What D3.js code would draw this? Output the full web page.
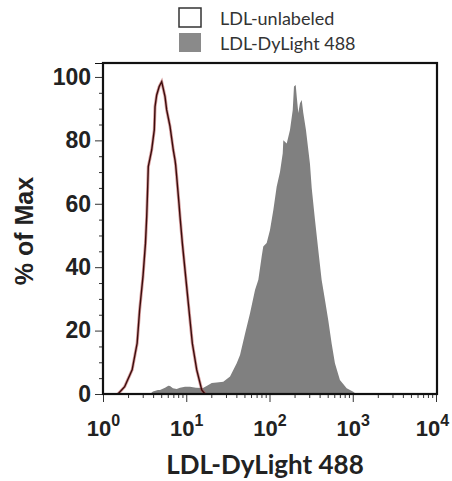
<!DOCTYPE html>
<html>
<head>
<meta charset="utf-8">
<script src="https://cdn.jsdelivr.net/npm/d3@7"></script>
<style>
  body { margin: 0; background: #fff; }
  svg { display: block; }
</style>
</head>
<body>
<script>
// Histogram outlines: position is log10(fluorescence), value is % of Max
var unlabeledLog = [0.18, 0.26, 0.35, 0.41, 0.44, 0.48, 0.51, 0.525, 0.537, 0.544, 0.565, 0.585, 0.616, 0.625, 0.645, 0.675, 0.705,
    0.745, 0.765, 0.805, 0.844, 0.865, 0.873, 0.885, 0.913, 0.925, 0.953, 0.993, 1.033, 1.073, 1.126, 1.186, 1.225];
var unlabeledPct = [0, 2.3, 7.6, 16, 26.5, 37, 47.5, 56, 65.4, 71.7, 74.4, 77, 83.3, 90.6, 94.3, 97, 98.5,
    93.8, 89.6, 84.4, 77, 73.8, 72.2, 68.6, 60, 56, 47.6, 37, 26.5, 16, 7.6, 1.3, 0];

var dylightLog = [0.565, 0.60, 0.66, 0.685, 0.745, 0.785, 0.805, 0.84, 0.885, 0.925, 0.985, 1.045, 1.117, 1.201, 1.25, 1.306,
    1.366, 1.445, 1.526, 1.606, 1.646, 1.706, 1.766, 1.826, 1.866, 1.906, 1.925, 1.966, 2.006, 2.046, 2.086, 2.126, 2.159,
    2.166, 2.207, 2.246, 2.279, 2.294, 2.315, 2.327, 2.346, 2.366, 2.387, 2.406, 2.438, 2.466, 2.486, 2.507, 2.546, 2.586,
    2.626, 2.666, 2.706, 2.746, 2.786, 2.846, 2.927, 3.006, 3.04];
var dylightPct = [0, 0.8, 1.3, 1.3, 2.0, 2.6, 2.5, 1.8, 1.6, 2.0, 2.3, 2.3, 2.0, 1.9, 2.6, 3.5,
    3.6, 3.9, 5.5, 9.7, 12.3, 19, 25.5, 32.8, 36, 43.4, 46.5, 47.6, 51.7, 58, 65.4, 70, 75.9,
    80, 79, 83.3, 89.6, 97, 97.5, 93.8, 88.6, 91.7, 92.7, 88.6, 83.3, 77, 72.6, 65, 55, 45.4,
    36, 29.7, 23.3, 16, 9.7, 4.4, 1.8, 0.7, 0];

var yTicks = [0, 20, 40, 60, 80, 100];
var xDecades = [0, 1, 2, 3, 4];
var legendLabels = ["LDL-unlabeled", "LDL-DyLight 488"];

var W = 452, H = 481;
var margin = { top: 63, right: 15, bottom: 87, left: 103 },
    width = W - margin.left - margin.right,
    height = H - margin.top - margin.bottom;

var svg = d3.select("body").append("svg")
    .attr("width", W)
    .attr("height", H);

var g = svg.append("g")
    .attr("transform", "translate(" + margin.left + "," + margin.top + ")");

var x = d3.scaleLog().domain([1, 1e4]).range([0, width - 1]);
var y = d3.scaleLinear().domain([0, 104.4]).range([height, 0]);

function toPoints(logs, pcts) {
    return logs.map(function(l, i) { return { v: Math.pow(10, l), p: pcts[i] }; });
}

var dylight = toPoints(dylightLog, dylightPct);
var unlabeled = toPoints(unlabeledLog, unlabeledPct);

// filled histogram
g.append("path")
    .datum(dylight)
    .attr("fill", "#808080")
    .attr("d", d3.area()
        .x(function(d) { return x(d.v); })
        .y0(height)
        .y1(function(d) { return y(d.p); }));

// outline histogram (soft red halo + dark core)
var outline = d3.line()
    .x(function(d) { return x(d.v); })
    .y(function(d) { return y(d.p); });
g.append("path")
    .datum(unlabeled)
    .attr("fill", "none")
    .attr("stroke", "#b04848")
    .attr("stroke-width", 3)
    .attr("stroke-opacity", 0.55)
    .attr("d", outline);
g.append("path")
    .datum(unlabeled)
    .attr("fill", "none")
    .attr("stroke", "#3a0c0c")
    .attr("stroke-width", 1.4)
    .attr("d", outline);

// y axis: majors every 20, minors every 5
var yMinor = d3.range(0, 101, 5).filter(function(v) { return v % 20 != 0; });
var yAxis = g.append("g")
    .call(d3.axisLeft(y).tickValues(yTicks).tickSize(8).tickPadding(4).tickFormat(d3.format("d")));
g.append("g")
    .call(d3.axisLeft(y).tickValues(yMinor).tickSize(4).tickFormat(""))
    .select(".domain").remove();
yAxis.selectAll("text")
    .attr("font-family", "'Liberation Sans', Arial, sans-serif")
    .attr("font-weight", "bold")
    .attr("font-size", 23)
    .attr("fill", "#222");

// x axis: log decades with minor ticks
var xMinor = [];
xDecades.slice(0, -1).forEach(function(dd) {
    for (var k = 2; k < 10; k++) xMinor.push(k * Math.pow(10, dd));
});
var xAxis = g.append("g")
    .attr("transform", "translate(0," + height + ")")
    .call(d3.axisBottom(x).tickValues(xDecades.map(function(dd) { return Math.pow(10, dd); })).tickSize(8).tickFormat(""));
g.append("g")
    .attr("transform", "translate(0," + height + ")")
    .call(d3.axisBottom(x).tickValues(xMinor).tickSize(4).tickFormat(""))
    .select(".domain").remove();

var xLab = xAxis.selectAll(".tick").append("text")
    .attr("y", 42)
    .attr("x", function(d, i) { return i == xDecades.length - 1 ? -4 : 0; })
    .attr("fill", "#222")
    .attr("font-family", "'Liberation Sans', Arial, sans-serif")
    .attr("font-weight", "bold")
    .attr("text-anchor", "middle")
    .attr("font-size", 22);
xLab.append("tspan").text("10");
xLab.append("tspan")
    .attr("font-size", 16)
    .attr("dy", -10)
    .text(function(d, i) { return xDecades[i]; });

g.selectAll(".domain").attr("stroke", "#111");
g.selectAll(".tick line").attr("stroke", "#333");

// frame
g.append("rect")
    .attr("x", 0).attr("y", 0)
    .attr("width", width).attr("height", height)
    .attr("fill", "none")
    .attr("stroke", "#111")
    .attr("stroke-width", 2.2);

// axis titles
svg.append("text")
    .attr("transform", "translate(33,231) rotate(-90)")
    .attr("text-anchor", "middle")
    .attr("font-family", "'Liberation Sans', Arial, sans-serif")
    .attr("font-weight", "bold")
    .attr("font-size", 25)
    .attr("fill", "#222")
    .text("% of Max");

svg.append("text")
    .attr("x", 265).attr("y", 474)
    .attr("text-anchor", "middle")
    .attr("font-family", "Lato, 'Open Sans', sans-serif")
    .attr("font-weight", "bold")
    .attr("font-size", 26)
    .attr("fill", "#222")
    .text("LDL-DyLight 488");

// legend
var legend = svg.append("g");
var legendRow = legend.selectAll("g").data(legendLabels).enter().append("g")
    .attr("transform", function(d, i) { return "translate(179," + (8 + i * 25) + ")"; });
legendRow.append("rect")
    .attr("width", 22).attr("height", 19)
    .attr("fill", function(d, i) { return i == 0 ? "#fff" : "#8a8a8a"; })
    .attr("stroke", function(d, i) { return i == 0 ? "#333" : "none"; })
    .attr("stroke-width", 1.5);
legendRow.append("text")
    .attr("x", 41).attr("y", 17)
    .attr("font-family", "Lato, 'Open Sans', sans-serif")
    .attr("font-size", 18)
    .attr("fill", "#333")
    .text(function(d) { return d; });
</script>
</body>
</html>
